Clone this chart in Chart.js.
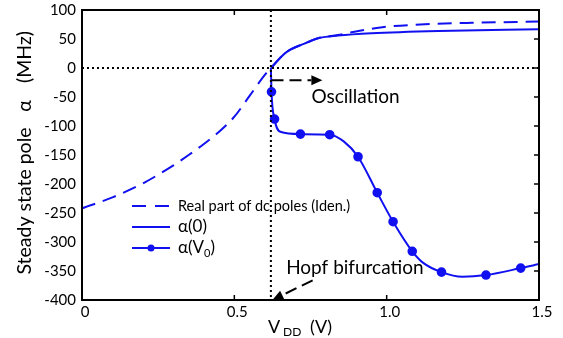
<!DOCTYPE html>
<html>
<head>
<meta charset="utf-8">
<script src="https://cdn.jsdelivr.net/npm/chart.js@4/dist/chart.umd.min.js"></script>
<style>
  html, body { margin: 0; padding: 0; background: #fff; }
  #wrap { width: 563px; height: 338px; }
</style>
</head>
<body>
<div id="wrap"><canvas id="poleChart"></canvas></div>
<script>
// values
var realX = [0, 0.1, 0.2, 0.25, 0.3, 0.35, 0.4, 0.45, 0.5, 0.55, 0.6, 0.62, 0.67, 0.73, 0.78, 0.84, 0.89, 0.98, 1.11, 1.28, 1.5];
var realY = [-242, -223, -199, -184, -168, -150, -131, -110, -84, -48, -12, 0, 27, 42, 52, 57, 62, 70, 75, 78, 80];

var a0X = [0.62, 0.67, 0.73, 0.78, 0.84, 0.95, 1.17, 1.5];
var a0Y = [0, 27, 42, 52, 56, 60, 64, 67];

var aV0X = [0.62, 0.622, 0.632, 0.651, 0.717, 0.813, 0.86, 0.906, 0.969, 1.021, 1.084, 1.12, 1.18, 1.249, 1.326, 1.44, 1.5];
var aV0Y = [0, -41, -88, -110, -114, -115, -127, -153, -215, -265, -316, -336, -352, -360, -357, -345, -338];
var aV0Marked = [false, true, true, false, true, true, false, true, true, true, true, false, true, false, true, true, false];

var xTicks = [0, 0.5, 1, 1.5];
var hopfX = 0.62;

var blue = '#1010f0';
var font = 'Lato, "Open Sans", sans-serif';

function pts(xs, ys) {
    return xs.map(function (x, i) { return {x: x, y: ys[i]}; });
}

// dotted guides, arrows, labels, legend, frame
var extras = {
    id: 'extras',
    afterDatasetsDraw: function (chart) {
        var c = chart.ctx, a = chart.chartArea;
        var xs = chart.scales.x, ys = chart.scales.y;
        c.save();

        // dotted zero line and Hopf line
        c.strokeStyle = '#000';
        c.lineWidth = 2;
        c.setLineDash([2, 3]);
        c.beginPath();
        c.moveTo(a.left, ys.getPixelForValue(0));
        c.lineTo(a.right, ys.getPixelForValue(0));
        c.moveTo(xs.getPixelForValue(hopfX), a.top);
        c.lineTo(xs.getPixelForValue(hopfX), a.bottom);
        c.stroke();

        function arrow(x1, y1, x2, y2) {
            var px1 = xs.getPixelForValue(x1), py1 = ys.getPixelForValue(y1);
            var px2 = xs.getPixelForValue(x2), py2 = ys.getPixelForValue(y2);
            var ang = Math.atan2(py2 - py1, px2 - px1);
            var hl = 11, hw = 5;
            c.setLineDash([12, 6]);
            c.lineWidth = 2;
            c.beginPath();
            c.moveTo(px1, py1);
            c.lineTo(px2 - hl * Math.cos(ang), py2 - hl * Math.sin(ang));
            c.stroke();
            c.setLineDash([]);
            c.beginPath();
            c.moveTo(px2, py2);
            c.lineTo(px2 - hl * Math.cos(ang) + hw * Math.sin(ang), py2 - hl * Math.sin(ang) - hw * Math.cos(ang));
            c.lineTo(px2 - hl * Math.cos(ang) - hw * Math.sin(ang), py2 - hl * Math.sin(ang) + hw * Math.cos(ang));
            c.closePath();
            c.fillStyle = '#000';
            c.fill();
        }
        arrow(0.622, -21, 0.789, -21);
        arrow(0.757, -366, 0.625, -400);

        c.fillStyle = '#000';
        c.font = '19px ' + font;
        c.textBaseline = 'alphabetic';
        c.textAlign = 'left';
        c.fillText('Oscillation', xs.getPixelForValue(0.753), ys.getPixelForValue(-61));
        c.fillText('Hopf bifurcation', xs.getPixelForValue(0.67), ys.getPixelForValue(-356));

        // legend
        var lx = 132, lx2 = 170, tx = 178;
        c.strokeStyle = blue;
        c.lineWidth = 2;
        c.setLineDash([14, 9]);
        c.beginPath(); c.moveTo(lx, 206); c.lineTo(lx2, 206); c.stroke();
        c.setLineDash([]);
        c.beginPath(); c.moveTo(lx, 227); c.lineTo(lx2, 227); c.stroke();
        c.beginPath(); c.moveTo(lx, 248); c.lineTo(lx2, 248); c.stroke();
        c.fillStyle = blue;
        c.beginPath(); c.arc(151, 248, 3.5, 0, Math.PI * 2); c.fill();
        c.fillStyle = '#000';
        c.textBaseline = 'middle';
        c.font = '14.5px ' + font;
        c.fillText('Real part of dc poles (Iden.)', tx, 206);
        c.font = '17px ' + font;
        c.fillText('\u03b1(0)', tx, 227);
        c.fillText('\u03b1(V', tx, 248);
        var w = c.measureText('\u03b1(V').width;
        c.font = '11px ' + font;
        c.fillText('0', tx + w, 253);
        var w2 = c.measureText('0').width;
        c.font = '17px ' + font;
        c.fillText(')', tx + w + w2, 248);

        // inward ticks
        c.strokeStyle = '#000';
        c.lineWidth = 1.5;
        c.beginPath();
        xTicks.forEach(function (v) {
            var px = xs.getPixelForValue(v);
            c.moveTo(px, a.top); c.lineTo(px, a.top + 5);
            c.moveTo(px, a.bottom); c.lineTo(px, a.bottom - 5);
        });
        ys.ticks.forEach(function (t) {
            var py = ys.getPixelForValue(t.value);
            c.moveTo(a.right, py); c.lineTo(a.right - 5, py);
        });
        c.stroke();

        // frame
        c.lineWidth = 2;
        c.strokeRect(a.left, a.top, a.right - a.left, a.bottom - a.top);

        // axis titles
        c.font = '19.5px ' + font;
        c.textBaseline = 'middle';
        c.textAlign = 'center';
        c.save();
        c.translate(25, 0);
        c.rotate(-Math.PI / 2);
        c.fillText('Steady state pole', -201, 0);
        c.fillText('\u03b1', -106, 0);
        c.fillText('(MHz)', -57, 0);
        c.restore();

        c.textAlign = 'left';
        c.textBaseline = 'alphabetic';
        c.font = '18px ' + font;
        c.fillText('V', 268, 333);
        c.font = '12px ' + font;
        c.fillText('DD', 283, 336);
        c.font = '18px ' + font;
        c.fillText('(V)', 310, 333);

        c.restore();
    }
};

var ctx = document.getElementById('poleChart').getContext('2d');
var poleChart = new Chart(ctx, {
    type: 'line',
    data: {
        datasets: [{
            label: 'Real part of dc poles (Iden.)',
            data: pts(realX, realY),
            borderColor: blue,
            borderWidth: 2,
            borderDash: [14, 8],
            pointRadius: 0,
            cubicInterpolationMode: 'monotone'
        },
        {
            label: '\u03b1(0)',
            data: pts(a0X, a0Y),
            borderColor: blue,
            borderWidth: 2,
            pointRadius: 0,
            cubicInterpolationMode: 'monotone'
        },
        {
            label: '\u03b1(V0)',
            data: pts(aV0X, aV0Y),
            borderColor: blue,
            backgroundColor: blue,
            borderWidth: 2,
            pointRadius: aV0Marked.map(function (m) { return m ? 3.8 : 0; }),
            cubicInterpolationMode: 'monotone'
        }]
    },
    options: {
        responsive: true,
        maintainAspectRatio: false,
        animation: false,
        layout: { padding: { left: 0, top: 10, right: 24, bottom: 0 } },
        plugins: {
            legend: { display: false },
            tooltip: { enabled: false }
        },
        scales: {
            x: {
                type: 'linear',
                min: 0,
                max: 1.5,
                afterFit: function (s) { s.height = 38; s.paddingLeft = 0; s.paddingRight = 0; },
                grid: { display: false, drawTicks: false },
                border: { display: false },
                ticks: {
                    stepSize: 0.5,
                    padding: 3,
                    labelOffset: 3,
                    color: '#000',
                    font: { family: font, size: 15 }
                }
            },
            y: {
                min: -400,
                max: 100,
                afterFit: function (s) { s.width = 82; s.paddingTop = 0; s.paddingBottom = 0; },
                grid: { display: false, drawTicks: false },
                border: { display: false },
                ticks: {
                    stepSize: 50,
                    padding: 6,
                    color: '#000',
                    font: { family: font, size: 15 }
                }
            }
        }
    },
    plugins: [extras]
});
</script>
</body>
</html>
